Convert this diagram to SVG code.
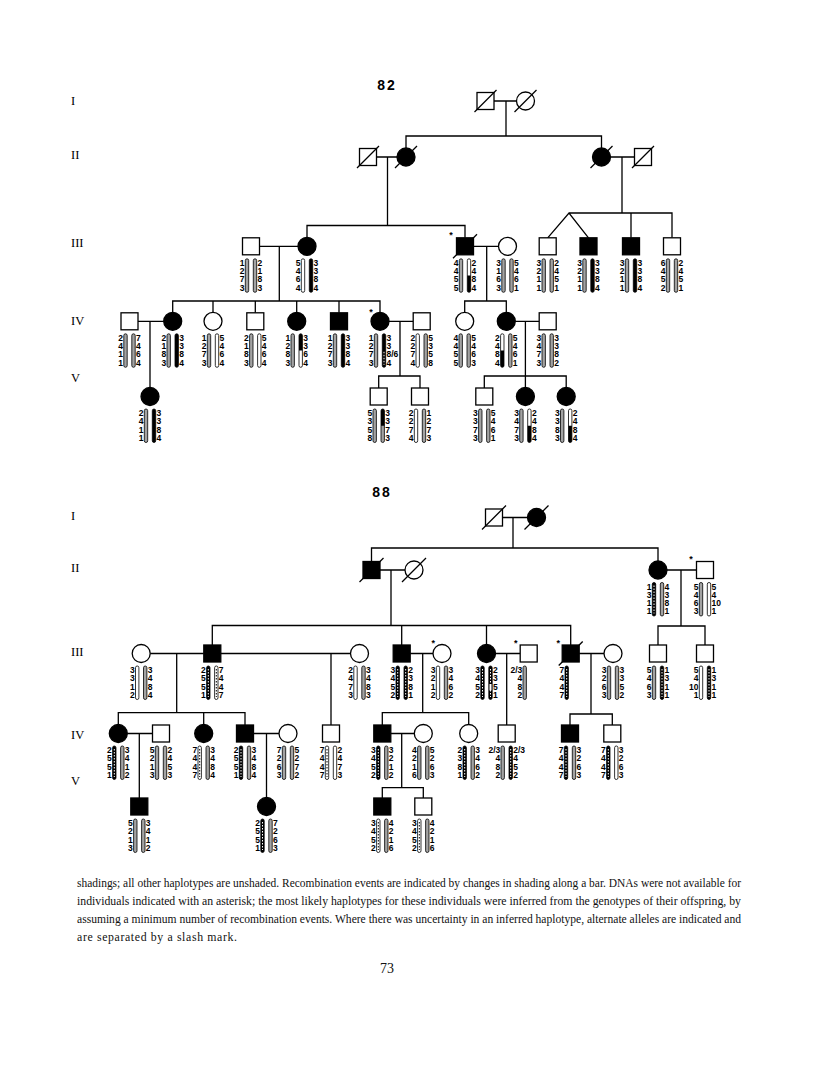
<svg xmlns="http://www.w3.org/2000/svg" width="816" height="1081" viewBox="0 0 816 1081">
<style>
.s{fill:#fff;stroke:#000;stroke-width:1.3}
.f{fill:#000;stroke:#000;stroke-width:1.3}
.ln{fill:none;stroke:#000;stroke-width:1.3}
.n{font-family:"Liberation Sans",Arial,sans-serif;font-weight:bold;font-size:8.5px;fill:#000}
.gl{font-family:"Liberation Serif","Times New Roman",serif;font-size:12.5px;fill:#000}
.ttl{font-family:"Liberation Sans",Arial,sans-serif;font-weight:bold;font-size:14px;letter-spacing:2px;text-anchor:middle}
.ast{font-family:"Liberation Sans",Arial,sans-serif;font-weight:bold;font-size:9px;text-anchor:middle}
.p{font-family:"Liberation Serif","Times New Roman",serif;font-size:11.8px;fill:#111}
</style>
<defs>
<rect id="W" x="-1.7" y="3.5" width="3.4" height="33.5" rx="1.7" fill="#fff" stroke="#000" stroke-width="0.8"/>
<rect id="G" x="-1.7" y="3.5" width="3.4" height="33.5" rx="1.7" fill="#a3a3a3" stroke="#000" stroke-width="0.8"/>
<rect id="B" x="-1.7" y="3.5" width="3.4" height="33.5" rx="1.7" fill="#000" stroke="#000" stroke-width="0.8"/>
<g id="D"><use href="#B"/><line x1="0" y1="6.5" x2="0" y2="34.5" stroke="#fff" stroke-width="1" stroke-dasharray="1.5 1.5"/></g>
<g id="C"><use href="#W"/><line x1="0" y1="6.5" x2="0" y2="34.5" stroke="#000" stroke-width="1" stroke-dasharray="1.5 1.5"/></g>
<path id="Blo" d="M-1.7 20.2H1.7V35.3A1.7 1.7 0 0 1 -1.7 35.3Z"/>
<path id="Bhi" d="M-1.7 20.2V5.2A1.7 1.7 0 0 1 1.7 5.2V20.2Z"/>
<line id="Dlo" x1="0" y1="21.5" x2="0" y2="34.5" stroke="#fff" stroke-width="1" stroke-dasharray="1.5 1.5"/>
<rect id="Wr3" x="-1" y="21.5" width="2" height="6.5" fill="#fff"/>
</defs>
<rect width="816" height="1081" fill="#fff"/>

<text class="ttl" x="387" y="90">82</text>
<text class="ttl" x="382" y="497">88</text>

<g id="gen-labels">
<text class="gl" x="71" y="105">I</text>
<text class="gl" x="71" y="159">II</text>
<text class="gl" x="71" y="247">III</text>
<text class="gl" x="71" y="325">IV</text>
<text class="gl" x="71" y="382">V</text>
<text class="gl" x="71" y="520">I</text>
<text class="gl" x="71" y="572">II</text>
<text class="gl" x="71" y="656">III</text>
<text class="gl" x="71" y="739">IV</text>
<text class="gl" x="71" y="785">V</text>
</g>

<g id="connectors">
<path class="ln" d="M494 101H516.5M506 101V136M406 148V136H601.5V148M376.5 157H397M387.5 157V225.5M307 237.3V225.5H465V237.8M610.5 157H634.5M622 157V213M569 213H672V237.8M631 213V237.8M547.7 237.8L569 213L588.5 237.8M259.5 246.3H298M279.3 246.3V301M172.7 312.3V301H380V312.3M213 301V312.3M255.3 301V312.8M296.7 301V312.3M339 301V312.8M138 321.3H163.7M150 321.3V387.5M389 321.3H413.2M400 321.3V376M378.7 388V376H420V388M473.5 246.3H498.5M486.7 246.3V301M464.7 312.3V301H506.3V312.3M515.3 321.3H539.2M525.4 321.3V387.5M484.3 388V376H566.2V387.5"/>
<path class="ln" d="M502.5 517.5H527.5M513 517.5V548M371.5 561.5V548H658V561M380 570H405M391 570V625.5M212.3 645V625.5H570.7V645M401.7 625.5V645M486.5 625.5V644.5M667 570H696.5M681 570V626M658 645V626H705V645M150.2 653.5H203.8M176.7 653.5V712.7M118.3 724.5V712.7H245V725M203.7 712.7V724.5M220.8 653.5H350.5M331 653.5V725M410.2 653.5H433M422.7 653.5V712.7M382.3 725V712.7H468.7V724.5M495.5 653.5H520.2M506.7 653.5V725M579.2 653.5H604M591 653.5V714M570 725V714H612.3V725M127.3 733.5H152.5M139.3 733.5V798M253.5 733.5H279M266.5 733.5V797.5M390.8 733.5H414.3M401.7 733.5V787.7M382.3 798V787.7H423.3V798"/>
</g>

<!-- ===== Pedigree 82 ===== -->
<g id="t_I1"><rect class="s" x="477" y="92.5" width="17" height="17"/><line class="ln" x1="474.5" y1="112" x2="496.5" y2="90"/></g>
<g id="t_I2"><circle class="s" cx="525.5" cy="101" r="9"/><line class="ln" x1="514.5" y1="112" x2="536.5" y2="90"/></g>
<g id="t_II1"><rect class="s" x="359.5" y="148.5" width="17" height="17"/><line class="ln" x1="357" y1="168" x2="379" y2="146"/></g>
<g id="t_II2"><circle class="f" cx="406" cy="157" r="9"/><line class="ln" x1="395" y1="168" x2="417" y2="146"/></g>
<g id="t_II3"><circle class="f" cx="601.5" cy="157" r="9"/><line class="ln" x1="590.5" y1="168" x2="612.5" y2="146"/></g>
<g id="t_II4"><rect class="s" x="634.5" y="148.5" width="17" height="17"/><line class="ln" x1="632" y1="168" x2="654" y2="146"/></g>

<g id="t_III1"><rect class="s" x="242.5" y="237.8" width="17" height="17"/><g transform="translate(251,255.3)"><use href="#G" x="-4"/><use href="#G" x="4"/><text class="n" x="-11.2 -11.2 -11.2 -11.2" y="10.5 18.8 27.1 35.4">1273</text><text class="n" x="6.5 6.5 6.5 6.5" y="10.5 18.8 27.1 35.4">2183</text></g></g>
<g id="t_III2"><circle class="f" cx="307" cy="246.3" r="9"/><g transform="translate(307,255.3)"><use href="#W" x="-4"/><use href="#B" x="4"/><text class="n" x="-11.2 -11.2 -11.2 -11.2" y="10.5 18.8 27.1 35.4">5464</text><text class="n" x="6.5 6.5 6.5 6.5" y="10.5 18.8 27.1 35.4">3384</text></g></g>
<g id="t_III3"><rect class="f" x="456.5" y="237.8" width="17" height="17"/><line class="ln" x1="453" y1="258.3" x2="477" y2="234.3"/><text class="ast" x="451" y="237.5">*</text><g transform="translate(465,255.3)"><use href="#G" x="-4"/><use href="#W" x="4"/><use href="#Blo" x="4"/><text class="n" x="-11.2 -11.2 -11.2 -11.2" y="10.5 18.8 27.1 35.4">4455</text><text class="n" x="6.5 6.5 6.5 6.5" y="10.5 18.8 27.1 35.4">2484</text></g></g>
<g id="t_III4"><circle class="s" cx="507.5" cy="246.3" r="9"/><g transform="translate(507.5,255.3)"><use href="#G" x="-4"/><use href="#G" x="4"/><text class="n" x="-11.2 -11.2 -11.2 -11.2" y="10.5 18.8 27.1 35.4">3163</text><text class="n" x="6.5 6.5 6.5 6.5" y="10.5 18.8 27.1 35.4">5461</text></g></g>
<g id="t_III5"><rect class="s" x="539.2" y="237.8" width="17" height="17"/><g transform="translate(547.7,255.3)"><use href="#G" x="-4"/><use href="#G" x="4"/><text class="n" x="-11.2 -11.2 -11.2 -11.2" y="10.5 18.8 27.1 35.4">3211</text><text class="n" x="6.5 6.5 6.5 6.5" y="10.5 18.8 27.1 35.4">2451</text></g></g>
<g id="t_III6"><rect class="f" x="580" y="237.8" width="17" height="17"/><g transform="translate(588.5,255.3)"><use href="#G" x="-4"/><use href="#B" x="4"/><text class="n" x="-11.2 -11.2 -11.2 -11.2" y="10.5 18.8 27.1 35.4">3211</text><text class="n" x="6.5 6.5 6.5 6.5" y="10.5 18.8 27.1 35.4">3384</text></g></g>
<g id="t_III7"><rect class="f" x="622.5" y="237.8" width="17" height="17"/><g transform="translate(631,255.3)"><use href="#G" x="-4"/><use href="#B" x="4"/><text class="n" x="-11.2 -11.2 -11.2 -11.2" y="10.5 18.8 27.1 35.4">3211</text><text class="n" x="6.5 6.5 6.5 6.5" y="10.5 18.8 27.1 35.4">3384</text></g></g>
<g id="t_III8"><rect class="s" x="663.5" y="237.8" width="17" height="17"/><g transform="translate(672,255.3)"><use href="#G" x="-4"/><use href="#G" x="4"/><text class="n" x="-11.2 -11.2 -11.2 -11.2" y="10.5 18.8 27.1 35.4">6452</text><text class="n" x="6.5 6.5 6.5 6.5" y="10.5 18.8 27.1 35.4">2451</text></g></g>

<g id="t_IV1"><rect class="s" x="121" y="312.8" width="17" height="17"/><g transform="translate(129.5,330.3)"><use href="#G" x="-4"/><use href="#G" x="4"/><text class="n" x="-11.2 -11.2 -11.2 -11.2" y="10.5 18.8 27.1 35.4">2411</text><text class="n" x="6.5 6.5 6.5 6.5" y="10.5 18.8 27.1 35.4">7464</text></g></g>
<g id="t_IV2"><circle class="f" cx="172.7" cy="321.3" r="9"/><g transform="translate(172.7,330.3)"><use href="#G" x="-4"/><use href="#B" x="4"/><text class="n" x="-11.2 -11.2 -11.2 -11.2" y="10.5 18.8 27.1 35.4">2183</text><text class="n" x="6.5 6.5 6.5 6.5" y="10.5 18.8 27.1 35.4">3384</text></g></g>
<g id="t_IV3"><circle class="s" cx="213" cy="321.3" r="9"/><g transform="translate(213,330.3)"><use href="#G" x="-4"/><use href="#W" x="4"/><text class="n" x="-11.2 -11.2 -11.2 -11.2" y="10.5 18.8 27.1 35.4">1273</text><text class="n" x="6.5 6.5 6.5 6.5" y="10.5 18.8 27.1 35.4">5464</text></g></g>
<g id="t_IV4"><rect class="s" x="246.8" y="312.8" width="17" height="17"/><g transform="translate(255.3,330.3)"><use href="#G" x="-4"/><use href="#W" x="4"/><text class="n" x="-11.2 -11.2 -11.2 -11.2" y="10.5 18.8 27.1 35.4">2183</text><text class="n" x="6.5 6.5 6.5 6.5" y="10.5 18.8 27.1 35.4">5464</text></g></g>
<g id="t_IV5"><circle class="f" cx="296.7" cy="321.3" r="9"/><g transform="translate(296.7,330.3)"><use href="#G" x="-4"/><use href="#W" x="4"/><use href="#Bhi" x="4"/><text class="n" x="-11.2 -11.2 -11.2 -11.2" y="10.5 18.8 27.1 35.4">1283</text><text class="n" x="6.5 6.5 6.5 6.5" y="10.5 18.8 27.1 35.4">3364</text></g></g>
<g id="t_IV6"><rect class="f" x="330.5" y="312.8" width="17" height="17"/><g transform="translate(339,330.3)"><use href="#G" x="-4"/><use href="#B" x="4"/><text class="n" x="-11.2 -11.2 -11.2 -11.2" y="10.5 18.8 27.1 35.4">1273</text><text class="n" x="6.5 6.5 6.5 6.5" y="10.5 18.8 27.1 35.4">3384</text></g></g>
<g id="t_IV7"><circle class="f" cx="380" cy="321.3" r="9"/><text class="ast" x="371" y="314.5">*</text><g transform="translate(380,330.3)"><use href="#G" x="-4"/><use href="#B" x="4"/><use href="#Dlo" x="4"/><text class="n" x="-11.2 -11.2 -11.2 -11.2" y="10.5 18.8 27.1 35.4">1273</text><text class="n"><tspan x="6.5" y="10.5">3</tspan><tspan x="6.5" y="18.8">3</tspan><tspan x="6.5" y="27.1">8/6</tspan><tspan x="6.5" y="35.4">4</tspan></text></g></g>
<g id="t_IV8"><rect class="s" x="413.2" y="312.8" width="17" height="17"/><g transform="translate(421.7,330.3)"><use href="#W" x="-4"/><use href="#G" x="4"/><text class="n" x="-11.2 -11.2 -11.2 -11.2" y="10.5 18.8 27.1 35.4">2274</text><text class="n" x="6.5 6.5 6.5 6.5" y="10.5 18.8 27.1 35.4">5358</text></g></g>
<g id="t_IV9"><circle class="s" cx="464.7" cy="321.3" r="9"/><g transform="translate(464.7,330.3)"><use href="#G" x="-4"/><use href="#G" x="4"/><text class="n" x="-11.2 -11.2 -11.2 -11.2" y="10.5 18.8 27.1 35.4">4455</text><text class="n" x="6.5 6.5 6.5 6.5" y="10.5 18.8 27.1 35.4">5463</text></g></g>
<g id="t_IV10"><circle class="f" cx="506.3" cy="321.3" r="9"/><g transform="translate(506.3,330.3)"><use href="#W" x="-4"/><use href="#Blo" x="-4"/><use href="#G" x="4"/><text class="n" x="-11.2 -11.2 -11.2 -11.2" y="10.5 18.8 27.1 35.4">2484</text><text class="n" x="6.5 6.5 6.5 6.5" y="10.5 18.8 27.1 35.4">5461</text></g></g>
<g id="t_IV11"><rect class="s" x="539.2" y="312.8" width="17" height="17"/><g transform="translate(547.7,330.3)"><use href="#G" x="-4"/><use href="#G" x="4"/><text class="n" x="-11.2 -11.2 -11.2 -11.2" y="10.5 18.8 27.1 35.4">3473</text><text class="n" x="6.5 6.5 6.5 6.5" y="10.5 18.8 27.1 35.4">3382</text></g></g>

<g id="t_V1"><circle class="f" cx="150" cy="396.5" r="9"/><g transform="translate(150,405.5)"><use href="#G" x="-4"/><use href="#B" x="4"/><text class="n" x="-11.2 -11.2 -11.2 -11.2" y="10.5 18.8 27.1 35.4">2411</text><text class="n" x="6.5 6.5 6.5 6.5" y="10.5 18.8 27.1 35.4">3384</text></g></g>
<g id="t_V2"><rect class="s" x="370.2" y="388" width="17" height="17"/><g transform="translate(378.7,405.5)"><use href="#G" x="-4"/><use href="#G" x="4"/><use href="#Bhi" x="4"/><text class="n" x="-11.2 -11.2 -11.2 -11.2" y="10.5 18.8 27.1 35.4">5358</text><text class="n" x="6.5 6.5 6.5 6.5" y="10.5 18.8 27.1 35.4">3373</text></g></g>
<g id="t_V3"><rect class="s" x="411.5" y="388" width="17" height="17"/><g transform="translate(420,405.5)"><use href="#W" x="-4"/><use href="#G" x="4"/><text class="n" x="-11.2 -11.2 -11.2 -11.2" y="10.5 18.8 27.1 35.4">2274</text><text class="n" x="6.5 6.5 6.5 6.5" y="10.5 18.8 27.1 35.4">1273</text></g></g>
<g id="t_V4"><rect class="s" x="475.8" y="388" width="17" height="17"/><g transform="translate(484.3,405.5)"><use href="#G" x="-4"/><use href="#G" x="4"/><text class="n" x="-11.2 -11.2 -11.2 -11.2" y="10.5 18.8 27.1 35.4">3373</text><text class="n" x="6.5 6.5 6.5 6.5" y="10.5 18.8 27.1 35.4">5461</text></g></g>
<g id="t_V5"><circle class="f" cx="525.4" cy="396.5" r="9"/><g transform="translate(525.4,405.5)"><use href="#G" x="-4"/><use href="#W" x="4"/><use href="#Blo" x="4"/><text class="n" x="-11.2 -11.2 -11.2 -11.2" y="10.5 18.8 27.1 35.4">3473</text><text class="n" x="6.5 6.5 6.5 6.5" y="10.5 18.8 27.1 35.4">2484</text></g></g>
<g id="t_V6"><circle class="f" cx="566.2" cy="396.5" r="9"/><g transform="translate(566.2,405.5)"><use href="#G" x="-4"/><use href="#W" x="4"/><use href="#Blo" x="4"/><text class="n" x="-11.2 -11.2 -11.2 -11.2" y="10.5 18.8 27.1 35.4">3383</text><text class="n" x="6.5 6.5 6.5 6.5" y="10.5 18.8 27.1 35.4">2484</text></g></g>

<!-- ===== Pedigree 88 ===== -->
<g id="b_I1"><rect class="s" x="485.5" y="509" width="17" height="17"/><line class="ln" x1="482" y1="529.5" x2="506" y2="505.5"/></g>
<g id="b_I2"><circle class="f" cx="536.5" cy="517.5" r="9"/><line class="ln" x1="524.5" y1="529.5" x2="548.5" y2="505.5"/></g>
<g id="b_II1"><rect class="f" x="363" y="561.5" width="17" height="17"/><line class="ln" x1="359.5" y1="582" x2="383.5" y2="558"/></g>
<g id="b_II2"><circle class="s" cx="414" cy="570" r="9"/><line class="ln" x1="402" y1="582" x2="426" y2="558"/></g>
<g id="b_II3"><circle class="f" cx="658" cy="570" r="9"/><g transform="translate(658,579)"><use href="#D" x="-4"/><use href="#G" x="4"/><text class="n" x="-11.2 -11.2 -11.2 -11.2" y="10.5 18.8 27.1 35.4">1311</text><text class="n" x="6.5 6.5 6.5 6.5" y="10.5 18.8 27.1 35.4">4381</text></g></g>
<g id="b_II4"><rect class="s" x="696.5" y="561.5" width="17" height="17"/><text class="ast" x="691" y="562">*</text><g transform="translate(705,579)"><use href="#G" x="-4"/><use href="#W" x="4"/><text class="n" x="-11.2 -11.2 -11.2 -11.2" y="10.5 18.8 27.1 35.4">5463</text><text class="n"><tspan x="6.5" y="10.5">5</tspan><tspan x="6.5" y="18.8">4</tspan><tspan x="6.5" y="27.1">10</tspan><tspan x="6.5" y="35.4">1</tspan></text></g></g>

<g id="b_III1"><circle class="s" cx="141.2" cy="653.5" r="9"/><g transform="translate(141.2,662.5)"><use href="#W" x="-4"/><use href="#G" x="4"/><text class="n" x="-11.2 -11.2 -11.2 -11.2" y="10.5 18.8 27.1 35.4">3312</text><text class="n" x="6.5 6.5 6.5 6.5" y="10.5 18.8 27.1 35.4">3484</text></g></g>
<g id="b_III2"><rect class="f" x="203.8" y="645" width="17" height="17"/><g transform="translate(212.3,662.5)"><use href="#D" x="-4"/><use href="#C" x="4"/><text class="n" x="-11.2 -11.2 -11.2 -11.2" y="10.5 18.8 27.1 35.4">2551</text><text class="n" x="6.5 6.5 6.5 6.5" y="10.5 18.8 27.1 35.4">7447</text></g></g>
<g id="b_III3"><circle class="s" cx="359.5" cy="653.5" r="9"/><g transform="translate(359.5,662.5)"><use href="#W" x="-4"/><use href="#G" x="4"/><text class="n" x="-11.2 -11.2 -11.2 -11.2" y="10.5 18.8 27.1 35.4">2473</text><text class="n" x="6.5 6.5 6.5 6.5" y="10.5 18.8 27.1 35.4">3483</text></g></g>
<g id="b_III4"><rect class="f" x="393.2" y="645" width="17" height="17"/><g transform="translate(401.7,662.5)"><use href="#D" x="-4"/><use href="#D" x="4"/><text class="n" x="-11.2 -11.2 -11.2 -11.2" y="10.5 18.8 27.1 35.4">3452</text><text class="n" x="6.5 6.5 6.5 6.5" y="10.5 18.8 27.1 35.4">2381</text></g></g>
<g id="b_III5"><circle class="s" cx="442" cy="653.5" r="9"/><text class="ast" x="433.3" y="646">*</text><g transform="translate(442,662.5)"><use href="#W" x="-4"/><use href="#G" x="4"/><text class="n" x="-11.2 -11.2 -11.2 -11.2" y="10.5 18.8 27.1 35.4">3212</text><text class="n" x="6.5 6.5 6.5 6.5" y="10.5 18.8 27.1 35.4">3462</text></g></g>
<g id="b_III6"><circle class="f" cx="486.5" cy="653.5" r="9"/><g transform="translate(486.5,662.5)"><use href="#D" x="-4"/><use href="#D" x="4"/><use href="#Wr3" x="4"/><text class="n" x="-11.2 -11.2 -11.2 -11.2" y="10.5 18.8 27.1 35.4">3452</text><text class="n" x="6.5 6.5 6.5 6.5" y="10.5 18.8 27.1 35.4">2351</text></g></g>
<g id="b_III7"><rect class="s" x="520.2" y="645" width="17" height="17"/><text class="ast" x="515.7" y="646">*</text><g transform="translate(528.7,662.5)"><use href="#G" x="-4"/><text class="n"><tspan x="-18.3" y="10.5">2/3</tspan><tspan x="-11.2" y="18.8">4</tspan><tspan x="-11.2" y="27.1">8</tspan><tspan x="-11.2" y="35.4">2</tspan></text></g></g>
<g id="b_III8"><rect class="f" x="562.2" y="645" width="17" height="17"/><line class="ln" x1="558.7" y1="665.5" x2="582.7" y2="641.5"/><text class="ast" x="558.3" y="646">*</text><g transform="translate(570.7,662.5)"><use href="#D" x="-4"/><text class="n" x="-11.2 -11.2 -11.2 -11.2" y="10.5 18.8 27.1 35.4">7447</text></g></g>
<g id="b_III9"><circle class="s" cx="613" cy="653.5" r="9"/><g transform="translate(613,662.5)"><use href="#G" x="-4"/><use href="#G" x="4"/><text class="n" x="-11.2 -11.2 -11.2 -11.2" y="10.5 18.8 27.1 35.4">3263</text><text class="n" x="6.5 6.5 6.5 6.5" y="10.5 18.8 27.1 35.4">3352</text></g></g>
<g id="b_III10"><rect class="s" x="649.5" y="645" width="17" height="17"/><g transform="translate(658,662.5)"><use href="#G" x="-4"/><use href="#D" x="4"/><text class="n" x="-11.2 -11.2 -11.2 -11.2" y="10.5 18.8 27.1 35.4">5463</text><text class="n" x="6.5 6.5 6.5 6.5" y="10.5 18.8 27.1 35.4">1311</text></g></g>
<g id="b_III11"><rect class="s" x="696.5" y="645" width="17" height="17"/><g transform="translate(705,662.5)"><use href="#W" x="-4"/><use href="#D" x="4"/><text class="n"><tspan x="-11.2" y="10.5">5</tspan><tspan x="-11.2" y="18.8">4</tspan><tspan x="-16" y="27.1">10</tspan><tspan x="-11.2" y="35.4">1</tspan></text><text class="n" x="6.5 6.5 6.5 6.5" y="10.5 18.8 27.1 35.4">1311</text></g></g>

<g id="b_IV1"><circle class="f" cx="118.3" cy="733.5" r="9"/><g transform="translate(118.3,742.5)"><use href="#D" x="-4"/><use href="#G" x="4"/><text class="n" x="-11.2 -11.2 -11.2 -11.2" y="10.5 18.8 27.1 35.4">2551</text><text class="n" x="6.5 6.5 6.5 6.5" y="10.5 18.8 27.1 35.4">3412</text></g></g>
<g id="b_IV2"><rect class="s" x="152.5" y="725" width="17" height="17"/><g transform="translate(161,742.5)"><use href="#G" x="-4"/><use href="#G" x="4"/><text class="n" x="-11.2 -11.2 -11.2 -11.2" y="10.5 18.8 27.1 35.4">5213</text><text class="n" x="6.5 6.5 6.5 6.5" y="10.5 18.8 27.1 35.4">2453</text></g></g>
<g id="b_IV3"><circle class="f" cx="203.7" cy="733.5" r="9"/><g transform="translate(203.7,742.5)"><use href="#C" x="-4"/><use href="#G" x="4"/><text class="n" x="-11.2 -11.2 -11.2 -11.2" y="10.5 18.8 27.1 35.4">7447</text><text class="n" x="6.5 6.5 6.5 6.5" y="10.5 18.8 27.1 35.4">3484</text></g></g>
<g id="b_IV4"><rect class="f" x="236.5" y="725" width="17" height="17"/><g transform="translate(245,742.5)"><use href="#D" x="-4"/><use href="#G" x="4"/><text class="n" x="-11.2 -11.2 -11.2 -11.2" y="10.5 18.8 27.1 35.4">2551</text><text class="n" x="6.5 6.5 6.5 6.5" y="10.5 18.8 27.1 35.4">3484</text></g></g>
<g id="b_IV5"><circle class="s" cx="288" cy="733.5" r="9"/><g transform="translate(288,742.5)"><use href="#G" x="-4"/><use href="#G" x="4"/><text class="n" x="-11.2 -11.2 -11.2 -11.2" y="10.5 18.8 27.1 35.4">7263</text><text class="n" x="6.5 6.5 6.5 6.5" y="10.5 18.8 27.1 35.4">5272</text></g></g>
<g id="b_IV6"><rect class="s" x="322.5" y="725" width="17" height="17"/><g transform="translate(331,742.5)"><use href="#C" x="-4"/><use href="#W" x="4"/><text class="n" x="-11.2 -11.2 -11.2 -11.2" y="10.5 18.8 27.1 35.4">7447</text><text class="n" x="6.5 6.5 6.5 6.5" y="10.5 18.8 27.1 35.4">2473</text></g></g>
<g id="b_IV7"><rect class="f" x="373.8" y="725" width="17" height="17"/><g transform="translate(382.3,742.5)"><use href="#D" x="-4"/><use href="#G" x="4"/><text class="n" x="-11.2 -11.2 -11.2 -11.2" y="10.5 18.8 27.1 35.4">3452</text><text class="n" x="6.5 6.5 6.5 6.5" y="10.5 18.8 27.1 35.4">3212</text></g></g>
<g id="b_IV8"><circle class="s" cx="423.3" cy="733.5" r="9"/><g transform="translate(423.3,742.5)"><use href="#G" x="-4"/><use href="#G" x="4"/><text class="n" x="-11.2 -11.2 -11.2 -11.2" y="10.5 18.8 27.1 35.4">4216</text><text class="n" x="6.5 6.5 6.5 6.5" y="10.5 18.8 27.1 35.4">5263</text></g></g>
<g id="b_IV9"><circle class="s" cx="468.7" cy="733.5" r="9"/><g transform="translate(468.7,742.5)"><use href="#D" x="-4"/><use href="#G" x="4"/><text class="n" x="-11.2 -11.2 -11.2 -11.2" y="10.5 18.8 27.1 35.4">2381</text><text class="n" x="6.5 6.5 6.5 6.5" y="10.5 18.8 27.1 35.4">3462</text></g></g>
<g id="b_IV10"><rect class="s" x="498.2" y="725" width="17" height="17"/><g transform="translate(506.7,742.5)"><use href="#G" x="-4"/><use href="#D" x="4"/><text class="n"><tspan x="-18.3" y="10.5">2/3</tspan><tspan x="-11.2" y="18.8">4</tspan><tspan x="-11.2" y="27.1">8</tspan><tspan x="-11.2" y="35.4">2</tspan></text><text class="n"><tspan x="6.5" y="10.5">2/3</tspan><tspan x="6.5" y="18.8">4</tspan><tspan x="6.5" y="27.1">5</tspan><tspan x="6.5" y="35.4">2</tspan></text></g></g>
<g id="b_IV11"><rect class="f" x="561.5" y="725" width="17" height="17"/><g transform="translate(570,742.5)"><use href="#D" x="-4"/><use href="#G" x="4"/><text class="n" x="-11.2 -11.2 -11.2 -11.2" y="10.5 18.8 27.1 35.4">7447</text><text class="n" x="6.5 6.5 6.5 6.5" y="10.5 18.8 27.1 35.4">3263</text></g></g>
<g id="b_IV12"><rect class="s" x="603.8" y="725" width="17" height="17"/><g transform="translate(612.3,742.5)"><use href="#D" x="-4"/><use href="#W" x="4"/><text class="n" x="-11.2 -11.2 -11.2 -11.2" y="10.5 18.8 27.1 35.4">7447</text><text class="n" x="6.5 6.5 6.5 6.5" y="10.5 18.8 27.1 35.4">3263</text></g></g>

<g id="b_V1"><rect class="f" x="130.8" y="798" width="17" height="17"/><g transform="translate(139.3,815.5)"><use href="#G" x="-4"/><use href="#G" x="4"/><text class="n" x="-11.2 -11.2 -11.2 -11.2" y="10.5 18.8 27.1 35.4">5213</text><text class="n" x="6.5 6.5 6.5 6.5" y="10.5 18.8 27.1 35.4">3412</text></g></g>
<g id="b_V2"><circle class="f" cx="266.5" cy="806.5" r="9"/><g transform="translate(266.5,815.5)"><use href="#D" x="-4"/><use href="#G" x="4"/><text class="n" x="-11.2 -11.2 -11.2 -11.2" y="10.5 18.8 27.1 35.4">2551</text><text class="n" x="6.5 6.5 6.5 6.5" y="10.5 18.8 27.1 35.4">7263</text></g></g>
<g id="b_V3"><rect class="f" x="373.8" y="798" width="17" height="17"/><g transform="translate(382.3,815.5)"><use href="#C" x="-4"/><use href="#G" x="4"/><text class="n" x="-11.2 -11.2 -11.2 -11.2" y="10.5 18.8 27.1 35.4">3452</text><text class="n" x="6.5 6.5 6.5 6.5" y="10.5 18.8 27.1 35.4">4216</text></g></g>
<g id="b_V4"><rect class="s" x="414.8" y="798" width="17" height="17"/><g transform="translate(423.3,815.5)"><use href="#C" x="-4"/><use href="#G" x="4"/><text class="n" x="-11.2 -11.2 -11.2 -11.2" y="10.5 18.8 27.1 35.4">3452</text><text class="n" x="6.5 6.5 6.5 6.5" y="10.5 18.8 27.1 35.4">4216</text></g></g>

<g id="caption">
<text class="p" x="77" y="887" textLength="664" lengthAdjust="spacingAndGlyphs">shadings; all other haplotypes are unshaded. Recombination events are indicated by changes in shading along a bar. DNAs were not available for</text>
<text class="p" x="77" y="905" textLength="664" lengthAdjust="spacingAndGlyphs">individuals indicated with an asterisk; the most likely haplotypes for these individuals were inferred from the genotypes of their offspring, by</text>
<text class="p" x="77" y="923" textLength="664" lengthAdjust="spacingAndGlyphs">assuming a minimum number of recombination events. Where there was uncertainty in an inferred haplotype, alternate alleles are indicated and</text>
<text class="p" x="77" y="941" textLength="160" lengthAdjust="spacing">are separated by a slash mark.</text>
<text class="p" x="387" y="973" text-anchor="middle" style="font-size:14px">73</text>
</g>
</svg>
